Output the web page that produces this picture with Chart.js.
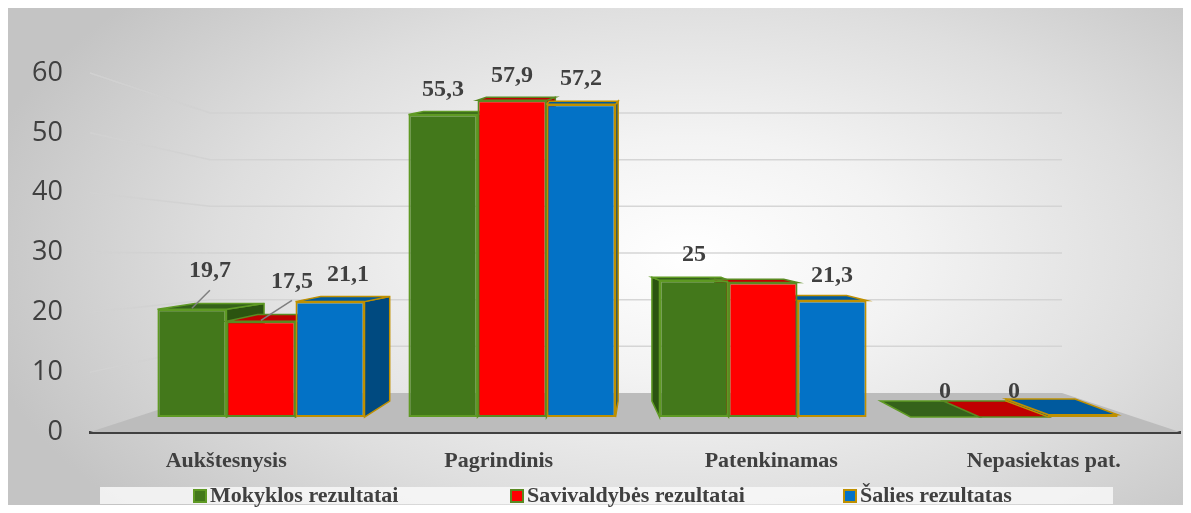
<!DOCTYPE html>
<html>
<head>
<meta charset="utf-8">
<script src="https://cdn.jsdelivr.net/npm/chart.js"></script>
<style>
body { margin: 0; background: #fff; }
#wrap { position: relative; width: 1191px; height: 513px; }
#panel {
  position: absolute; left: 8px; top: 8px; width: 1175px; height: 497px;
  background: radial-gradient(ellipse 62% 80% at 58% 50%, #ffffff 0%, #f3f3f3 30%, #dedede 65%, #c4c4c4 100%);
}
canvas { position: absolute; left: 0; top: 0; }
</style>
</head>
<body>
<div id="wrap">
  <div id="panel"></div>
  <canvas id="myChart" width="1191" height="513"></canvas>
</div>
<script>
const categories = ["Aukštesnysis", "Pagrindinis", "Patenkinamas", "Nepasiektas pat."]
const mokykla = [19.7, 55.3, 25, 0]
const savivaldybe = [17.5, 57.9, 24.6, 0]
const salis = [21.1, 57.2, 21.3, 0.4]
const yTicks = [0, 10, 20, 30, 40, 50, 60]
const seriesNames = ["Mokyklos rezultatai", "Savivaldybės rezultatai", "Šalies rezultatas"]

// labels the original leaves out (dataset,index)
const hiddenLabels = ["1,2", "2,3"]
// small nudges for the crowded first group, third value = leader line
const labelShift = { "0,0": [18, -13, true], "1,0": [31, -15, true], "2,0": [18, -2] }
const legendX = [193, 510, 843]

const points = arr => arr.map((v, i) => ({ x: i, y: v }))

// perspective depth of the 3d boxes
const depthX = px => 0.09 * (610 - px)
const depthY = (py, base) => Math.min(-3, -16 + 0.095 * (base - py))

function poly(ctx, pts, fill, stroke) {
  ctx.beginPath()
  ctx.moveTo(pts[0][0], pts[0][1])
  for (let k = 1; k < pts.length; k++) ctx.lineTo(pts[k][0], pts[k][1])
  ctx.closePath()
  ctx.fillStyle = fill
  ctx.fill()
  ctx.strokeStyle = stroke
  ctx.lineWidth = 1.5
  ctx.stroke()
}

const room = {
  id: 'room',
  beforeDatasetsDraw(chart) {
    const { ctx, chartArea: a, scales } = chart
    const backL = a.left + 120, backR = a.right - 118
    const yFront = scales.y.getPixelForValue(0)
    const yBack = scales.yw.getPixelForValue(0)
    ctx.save()
    ctx.fillStyle = '#bcbcbc'
    ctx.beginPath()
    ctx.moveTo(a.left, yFront)
    ctx.lineTo(backL, yBack)
    ctx.lineTo(backR, yBack)
    ctx.lineTo(a.right, yFront)
    ctx.closePath()
    ctx.fill()

    ctx.strokeStyle = 'rgba(210,210,210,0.9)'
    ctx.lineWidth = 1.5
    yTicks.forEach(v => {
      if (v === 0) return
      ctx.beginPath()
      ctx.moveTo(a.left, scales.y.getPixelForValue(v))
      ctx.lineTo(backL, scales.yw.getPixelForValue(v))
      ctx.lineTo(backR, scales.yw.getPixelForValue(v))
      ctx.stroke()
    })

    // side and top faces, fronts are drawn by the bars themselves
    chart.data.datasets.forEach((ds, i) => {
      chart.getDatasetMeta(i).data.forEach(bar => {
        const { x, y, base, width } = bar.getProps(['x', 'y', 'base', 'width'], true)
        const xl = x - width / 2, xr = x + width / 2
        const dx = depthX(x), dyt = depthY(y, base), dyb = -16
        const sx = dx > 0 ? xr : xl
        if (base - y > 1) {
          poly(ctx, [[sx, y], [sx + dx, y + dyt], [sx + dx, base + dyb], [sx, base]], ds.sideColor, ds.borderColor)
        }
        poly(ctx, [[xl, y], [xr, y], [xr + dx, y + dyt], [xl + dx, y + dyt]], ds.topColor, ds.borderColor)
      })
    })
    ctx.restore()
  }
}

const valueLabels = {
  id: 'valueLabels',
  afterDatasetsDraw(chart) {
    const ctx = chart.ctx
    ctx.save()
    ctx.font = 'bold 24px "Liberation Serif"'
    ctx.fillStyle = '#404040'
    ctx.textAlign = 'center'
    ctx.textBaseline = 'middle'
    chart.data.datasets.forEach((ds, i) => {
      chart.getDatasetMeta(i).data.forEach((bar, j) => {
        const key = i + ',' + j
        if (hiddenLabels.includes(key)) return
        const s = labelShift[key] || [0, 0]
        const lx = bar.x + s[0], ly = bar.y - 25 + s[1]
        if (s[2]) {
          ctx.strokeStyle = '#7f7f7f'
          ctx.lineWidth = 1.5
          ctx.beginPath()
          ctx.moveTo(lx, ly + 19)
          ctx.lineTo(bar.x, bar.y - 1)
          ctx.stroke()
        }
        ctx.fillText(String(ds.data[j].y).replace('.', ','), lx, ly)
      })
    })
    ctx.restore()
  }
}

const legendStrip = {
  id: 'legendStrip',
  afterDraw(chart) {
    const ctx = chart.ctx
    ctx.save()
    ctx.fillStyle = 'rgba(248,248,248,0.85)'
    ctx.fillRect(100, 487, 1013, 17)
    ctx.font = 'bold 22px "Liberation Serif"'
    ctx.textBaseline = 'middle'
    ctx.textAlign = 'left'
    chart.data.datasets.forEach((ds, i) => {
      const bx = legendX[i]
      ctx.fillStyle = ds.backgroundColor
      ctx.fillRect(bx, 489, 14, 14)
      ctx.strokeStyle = ds.borderColor
      ctx.lineWidth = 2
      ctx.strokeRect(bx + 1, 490, 12, 12)
      ctx.fillStyle = '#404040'
      ctx.fillText(ds.label, bx + 17, 496)
    })
    ctx.restore()
  }
}

const data = {
  labels: categories,
  datasets: [
    { label: seriesNames[0], data: points(mokykla), backgroundColor: '#43781b', borderColor: '#5f9a24', topColor: '#35621a', sideColor: '#2b5410' },
    { label: seriesNames[1], data: points(savivaldybe), backgroundColor: '#ff0000', borderColor: '#5a8a22', topColor: '#c00000', sideColor: '#b00000' },
    { label: seriesNames[2], data: points(salis), backgroundColor: '#0372c6', borderColor: '#bf9000', topColor: '#005a9e', sideColor: '#004a80' }
  ]
}
data.datasets.forEach(ds => {
  ds.xAxisID = 'xb'
  ds.yAxisID = 'yb'
  ds.borderWidth = 2
  ds.borderSkipped = false
  ds.categoryPercentage = 0.825
  ds.barPercentage = 1
})

const config = {
  type: 'bar',
  data: data,
  options: {
    responsive: false,
    animation: false,
    layout: { padding: { top: 73, right: 11, bottom: 41, left: 0 } },
    plugins: { legend: { display: false }, tooltip: { enabled: false } },
    scales: {
      x: {
        type: 'category', position: 'bottom', offset: true,
        grid: { display: false, drawTicks: false },
        border: { display: true, color: '#404040', width: 3 },
        ticks: { font: { family: 'Liberation Serif', size: 22, weight: 'bold' }, color: '#404040', padding: 16 },
        afterFit: s => { s.height = 40 }
      },
      xb: {
        type: 'linear', display: false, offset: false, min: -0.681, max: 3.661,
        afterBuildTicks: s => { s.ticks = categories.map((c, i) => ({ value: i })) }
      },
      y: {
        type: 'linear', position: 'left', min: 0, max: 60,
        grid: { display: false, drawTicks: false },
        border: { display: false },
        ticks: { stepSize: 10, font: { family: 'Open Sans', size: 27 }, color: '#404040', padding: 27 },
        afterFit: s => { s.width = 90 }
      },
      yb: { type: 'linear', display: false, min: -2.74, max: 62.9 },
      yw: { type: 'linear', display: false, min: -8.357, max: 68.571 }
    }
  },
  plugins: [room, valueLabels, legendStrip]
}

const myChart = new Chart(document.getElementById('myChart'), config)
</script>
</body>
</html>
